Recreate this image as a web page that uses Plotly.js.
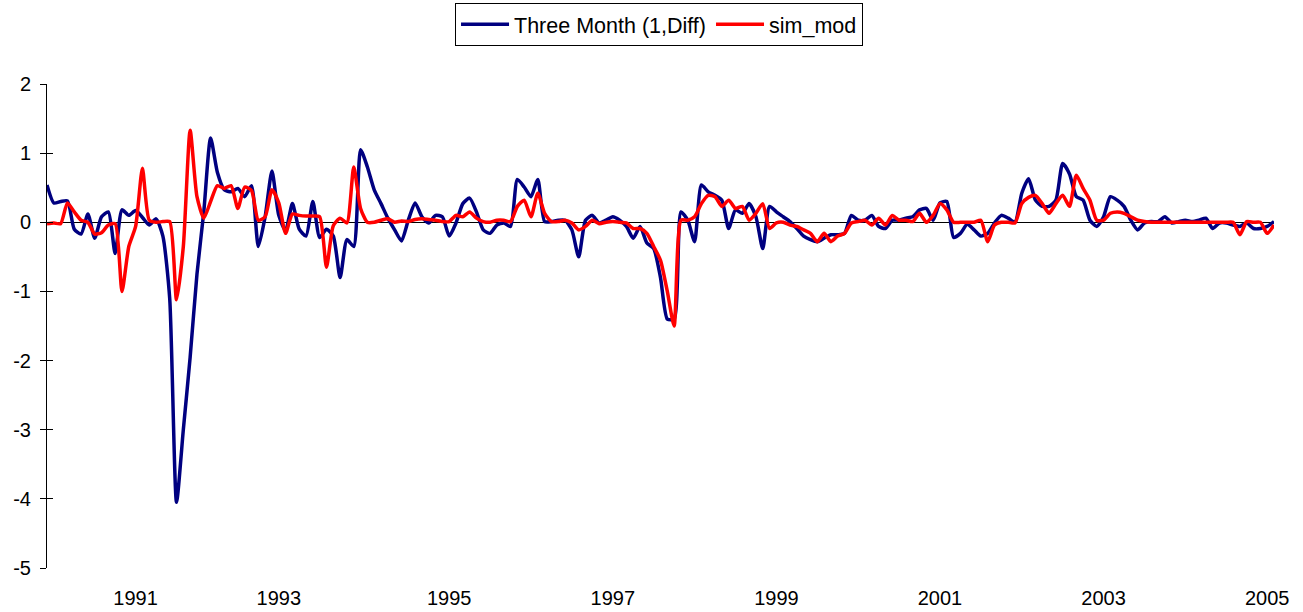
<!DOCTYPE html>
<html>
<head>
<meta charset="utf-8">
<script src="https://cdn.plot.ly/plotly-3.0.1.min.js"></script>
<style>
html,body{margin:0;padding:0;background:#fff;}
#chart{width:1303px;height:612px;}
</style>
</head>
<body>
<div id="chart"></div>
<script>
// Monthly observations (index 0 = first month shown)
var threeMonth = [
 0.54,0.28,0.30,0.31,-0.10,-0.17,0.12,-0.23,0.08,0.15,
 -0.45,0.18,0.10,0.17,0.07,-0.04,0.05,-0.20,-1.10,-4.05,
 -3.00,-1.95,-0.75,0.15,1.22,0.72,0.47,0.44,0.49,0.37,
 0.53,-0.35,0.08,0.74,0.10,-0.12,0.27,-0.10,-0.20,0.30,
 -0.22,-0.10,-0.20,-0.80,-0.25,-0.35,1.05,0.80,0.47,0.27,
 0.06,-0.11,-0.27,0.03,0.28,0.08,-0.01,0.10,0.08,-0.20,
 -0.01,0.27,0.35,0.15,-0.11,-0.16,-0.04,-0.01,-0.06,0.62,
 0.51,0.37,0.62,0.01,0.01,0.03,0.03,-0.11,-0.50,0.03,
 0.10,-0.01,0.03,0.08,0.03,-0.06,-0.23,-0.06,-0.30,-0.38,
 -0.80,-1.40,-1.40,0.15,0.03,-0.28,0.54,0.44,0.39,0.32,
 -0.09,0.18,0.13,0.27,0.08,-0.38,0.23,0.15,0.08,0.01,
 -0.09,-0.20,-0.25,-0.28,-0.23,-0.18,-0.18,-0.16,0.10,0.03,
 0.03,0.10,-0.06,-0.09,0.03,0.03,0.06,0.08,0.18,0.20,
 0.03,0.28,0.30,-0.22,-0.16,-0.03,-0.11,-0.20,-0.16,-0.01,
 0.10,0.06,0.00,0.42,0.63,0.32,0.23,0.23,0.32,0.85,
 0.70,0.37,0.32,0.03,-0.06,0.08,0.37,0.32,0.23,0.03,
 -0.11,-0.01,0.01,0.01,0.08,-0.01,0.01,0.03,0.01,0.03,
 0.06,-0.09,-0.01,-0.01,-0.04,-0.06,-0.01,-0.09,-0.09,-0.06,
 0.01
];
var simMod = [
 -0.02,-0.01,-0.02,0.28,0.15,0.03,0.00,-0.17,-0.15,-0.04,
 -0.02,-1.00,-0.35,-0.06,0.78,0.03,0.00,0.01,0.01,-1.12,
 -0.35,1.33,0.37,0.06,0.30,0.53,0.49,0.53,0.20,0.51,
 0.46,0.03,0.08,0.47,0.28,-0.16,0.12,0.10,0.09,0.09,
 0.08,-0.65,-0.05,0.06,-0.01,0.80,0.20,0.00,0.00,0.03,
 0.05,0.00,0.02,0.01,0.04,0.05,0.04,0.03,0.01,0.01,
 0.10,0.08,0.15,0.06,0.01,0.00,0.03,0.03,0.01,0.23,
 0.32,0.08,0.42,0.13,0.01,0.01,0.03,-0.01,-0.11,-0.06,
 0.03,-0.02,0.00,0.01,0.00,-0.01,-0.09,-0.09,-0.16,-0.35,
 -0.55,-1.00,-1.50,0.03,0.03,0.08,0.27,0.39,0.37,0.23,
 0.32,0.20,0.23,0.03,0.13,0.27,-0.09,-0.01,0.00,-0.04,
 -0.06,-0.11,-0.16,-0.28,-0.16,-0.28,-0.20,-0.16,-0.01,0.01,
 0.03,-0.04,0.06,-0.04,0.10,0.03,0.03,0.01,0.13,0.00,
 0.10,0.27,0.18,0.00,0.00,0.00,0.00,0.03,-0.28,-0.04,
 0.00,0.00,-0.01,0.27,0.36,0.39,0.27,0.13,0.27,0.39,
 0.23,0.68,0.49,0.32,0.03,0.03,0.13,0.15,0.13,0.08,
 0.03,0.01,0.00,0.00,0.00,0.00,0.00,0.00,0.00,0.00,
 0.00,0.00,0.00,0.00,0.00,-0.18,0.01,0.00,0.00,-0.16,
 -0.04
];
var tickLabels = ['1991','1993','1995','1997','1999','2001','2003','2005'];
var tickIndex  = [13, 34, 59, 83, 107, 131, 155, 179];
var yTicks = [2,1,0,-1,-2,-3,-4,-5];
var yTickText = ['2','1','0','-1','-2','-3','-4','-5'];

var idx = threeMonth.map(function(_, i){ return i; });
var FONT = 'Liberation Sans, Arial, sans-serif';

var traces = [
  {x: idx, y: threeMonth, type: 'scatter', mode: 'lines', name: 'Three Month (1,Diff)',
   line: {color: '#000080', width: 3.5, shape: 'spline', smoothing: 0.6}},
  {x: idx, y: simMod, type: 'scatter', mode: 'lines', name: 'sim_mod',
   line: {color: '#FF0000', width: 3.5, shape: 'spline', smoothing: 0.6}},
  {x: [0], y: [0], yaxis: 'y2', type: 'scatter', mode: 'markers',
   marker: {opacity: 0}, showlegend: false, hoverinfo: 'skip'}
];

var layout = {
  width: 1303, height: 612,
  margin: {l: 47, r: 29, t: 84, b: 44, autoexpand: false},
  paper_bgcolor: '#fff', plot_bgcolor: '#fff',
  font: {family: FONT, size: 20, color: '#000'},
  showlegend: true,
  legend: {orientation: 'h', x: 0.4988, xanchor: 'center', y: 1.168, yanchor: 'top',
           bordercolor: '#000', borderwidth: 1, bgcolor: '#fff', itemwidth: 48,
           font: {family: FONT, size: 21.5, color: '#000'}},
  xaxis: {range: [0, threeMonth.length - 1], showgrid: false, zeroline: false, showline: false,
          tickmode: 'array', tickvals: tickIndex, ticktext: tickLabels,
          ticks: 'outside', ticklen: 12, tickcolor: 'rgba(0,0,0,0)',
          tickfont: {family: FONT, size: 20, color: '#000'}},
  yaxis: {range: [-5, 2], showgrid: false, zeroline: true, zerolinecolor: '#000', zerolinewidth: 1,
          showline: true, linecolor: '#000', linewidth: 1,
          tickmode: 'array', tickvals: yTicks, ticktext: yTickText,
          ticks: 'outside', ticklen: 6, tickcolor: '#000',
          ticklabelstandoff: 5,
          tickfont: {family: FONT, size: 20, color: '#000'}},
  yaxis2: {range: [-5, 2], overlaying: 'y', side: 'left', showgrid: false, zeroline: false,
           showline: false, tickmode: 'array', tickvals: yTicks, ticks: 'inside', ticklen: 6,
           tickcolor: '#000', showticklabels: false}
};

Plotly.newPlot('chart', traces, layout, {displayModeBar: false, staticPlot: true});
</script>
</body>
</html>
